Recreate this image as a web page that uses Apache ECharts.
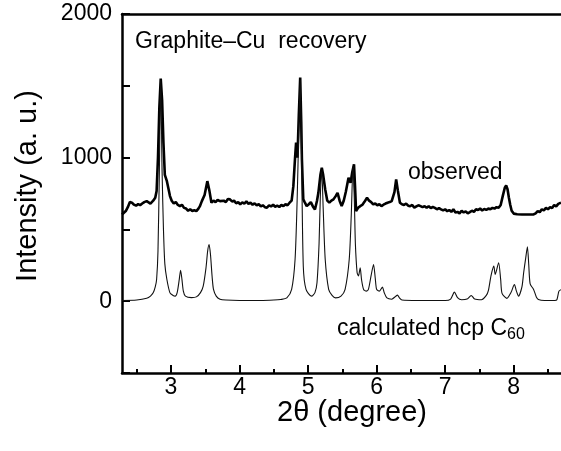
<!DOCTYPE html>
<html><head><meta charset="utf-8">
<script src="https://cdn.jsdelivr.net/npm/echarts@6/dist/echarts.min.js"></script>
<style>html,body{margin:0;padding:0;background:#fff}#c{width:561px;height:451px}</style>
</head><body><div id="c"></div>
<script>
var obsX = [2.285,2.31,2.34,2.37,2.40,2.43,2.46,2.49,2.52,2.55,2.58,2.61,2.645,2.67,2.70,2.72,2.74,2.77,2.79,2.81,2.83,2.85,2.87,2.89,2.91,2.94,2.96,2.985,3.01,3.04,3.07,3.10,3.13,3.16,3.19,3.22,3.25,3.28,3.31,3.34,3.37,3.40,3.42,3.45,3.49,3.53,3.56,3.59,3.62,3.65,3.68,3.715,3.74,3.77,3.80,3.83,3.86,3.89,3.92,3.95,3.98,4.01,4.04,4.07,4.10,4.13,4.16,4.19,4.22,4.25,4.28,4.31,4.34,4.37,4.40,4.43,4.46,4.49,4.52,4.55,4.58,4.61,4.64,4.67,4.70,4.73,4.76,4.785,4.81,4.825,4.845,4.865,4.885,4.90,4.91,4.93,4.95,4.98,5.01,5.04,5.07,5.10,5.13,5.15,5.18,5.20,5.22,5.25,5.28,5.31,5.34,5.37,5.40,5.43,5.46,5.49,5.52,5.55,5.59,5.62,5.645,5.67,5.685,5.70,5.73,5.76,5.79,5.82,5.86,5.89,5.92,5.95,5.98,6.01,6.04,6.07,6.10,6.13,6.16,6.19,6.22,6.26,6.285,6.31,6.34,6.37,6.40,6.43,6.46,6.49,6.52,6.55,6.58,6.61,6.64,6.67,6.70,6.73,6.76,6.79,6.82,6.85,6.88,6.91,6.94,6.97,7.00,7.03,7.06,7.09,7.12,7.15,7.18,7.21,7.24,7.27,7.30,7.33,7.36,7.39,7.42,7.45,7.48,7.51,7.54,7.57,7.60,7.63,7.66,7.69,7.72,7.75,7.78,7.81,7.84,7.87,7.89,7.91,7.93,7.95,7.97,8.00,8.05,8.12,8.20,8.29,8.32,8.35,8.38,8.41,8.44,8.47,8.50,8.53,8.56,8.59,8.62,8.65,8.69];
var obsY = [604,612,628,655,690,686,672,665,676,669,680,690,697,684,680,690,700,720,767,1000,1350,1550,1400,1100,880,836,790,732,700,681,690,670,662,672,650,645,630,640,628,633,627,645,660,697,740,836,770,686,700,690,705,697,688,700,690,712,709,695,700,682,690,674,688,680,695,678,686,672,681,668,676,660,668,655,651,668,660,672,658,665,656,670,662,675,668,686,700,801,1000,1104,1000,1300,1557,1250,987,709,690,662,675,690,660,639,700,755,880,930,880,778,700,686,700,709,730,755,700,662,700,760,860,825,900,953,800,627,650,662,670,690,720,700,690,674,680,668,675,662,672,680,686,690,697,760,848,770,686,675,670,680,665,662,670,651,660,668,662,655,662,650,662,648,656,650,640,648,639,632,640,627,635,622,640,618,622,612,630,618,625,612,620,630,622,640,635,645,632,642,636,645,640,650,645,655,651,670,732,790,806,780,720,670,630,610,605,604,604,604,612,628,620,640,632,650,640,655,648,670,660,678,686];
var calX = [2.285,2.50,2.645,2.70,2.74,2.77,2.79,2.81,2.83,2.85,2.87,2.89,2.91,2.94,2.985,3.03,3.06,3.09,3.12,3.14,3.16,3.18,3.21,3.30,3.37,3.43,3.47,3.51,3.535,3.555,3.575,3.60,3.62,3.66,3.715,3.80,4.00,4.30,4.50,4.60,4.69,4.76,4.81,4.84,4.865,4.885,4.905,4.93,4.97,5.05,5.10,5.13,5.16,5.18,5.20,5.22,5.25,5.30,5.35,5.40,5.48,5.54,5.60,5.63,5.655,5.675,5.69,5.715,5.735,5.76,5.78,5.81,5.85,5.88,5.92,5.955,5.98,6.00,6.04,6.085,6.11,6.15,6.22,6.28,6.305,6.33,6.37,6.60,7.00,7.08,7.135,7.18,7.24,7.32,7.38,7.43,7.53,7.60,7.63,7.67,7.71,7.73,7.78,7.81,7.83,7.90,7.96,8.01,8.04,8.07,8.12,8.145,8.175,8.20,8.22,8.24,8.29,8.33,8.36,8.45,8.60,8.63,8.66,8.69];
var calY = [5,8,20,35,58,100,151,350,900,1540,900,500,260,151,58,40,35,60,150,216,150,70,35,25,30,60,105,230,350,395,330,170,82,35,14,8,5,5,8,12,23,82,290,700,1200,1540,1000,244,82,35,60,128,400,750,900,650,290,82,40,23,35,82,290,600,940,700,400,200,175,233,150,82,70,82,180,256,160,82,70,98,60,23,14,35,42,25,8,5,5,15,63,25,10,15,40,15,10,40,73,180,244,186,268,150,55,20,60,116,70,35,100,198,300,379,250,120,82,30,12,5,5,10,70,80];
var xMajor = [3,4,5,6,7,8];
var xMinor = [2.5,3.5,4.5,5.5,6.5,7.5,8.5];
var yLabels = [0,1000,2000];

function pairs(xs, ys){ return xs.map(function(x,i){return [x, ys[i]];}); }
var FONT = 'Liberation Sans';
var XMIN = 2.285, XMAX = 8.69;
function tickAxis(vals, len){
  return {type:'value', min:XMIN, max:XMAX, position:'bottom',
    axisLine:{show:false, onZero:false},
    axisTick:{show:true, inside:true, length:len, customValues:vals, lineStyle:{color:'#000', width:2}},
    axisLabel:{show:false}, splitLine:{show:false}};
}
var chart = echarts.init(document.getElementById('c'));
chart.setOption({
  animation:false,
  backgroundColor:'#fff',
  grid:{left:122, right:0, top:14, bottom:78, containLabel:false},
  xAxis:[
    {type:'value', min:XMIN, max:XMAX, position:'bottom',
     axisLine:{show:true, onZero:false, lineStyle:{color:'#000', width:2.5}},
     axisTick:{show:false},
     axisLabel:{show:true, customValues:xMajor, margin:3, color:'#000', fontSize:23, fontFamily:FONT},
     splitLine:{show:false}},
    tickAxis(xMajor, 8),
    tickAxis(xMinor, 4),
    {type:'value', min:XMIN, max:XMAX, position:'top',
     axisLine:{show:true, onZero:false, lineStyle:{color:'#000', width:2.5}},
     axisTick:{show:false}, axisLabel:{show:false}, splitLine:{show:false}}
  ],
  yAxis:{type:'value', min:-500, max:2000, interval:500,
     axisLine:{show:true, onZero:false, lineStyle:{color:'#000', width:2.5}},
     axisTick:{show:true, inside:true, length:8, lineStyle:{color:'#000', width:2}},
     axisLabel:{show:true, margin:10, color:'#000', fontSize:23, fontFamily:FONT,
       formatter:function(v){ return yLabels.indexOf(v) >= 0 ? String(v) : ''; }},
     splitLine:{show:false}},
  series:[
    {type:'line', name:'observed', data:pairs(obsX, obsY), showSymbol:false, symbol:'none',
     lineStyle:{color:'#000', width:2.6}, clip:true},
    {type:'line', name:'calculated', data:pairs(calX, calY), showSymbol:false, symbol:'none', smooth:0.25,
     lineStyle:{color:'#111', width:1.1}, clip:true}
  ],
  graphic:[
    {type:'text', x:28, y:186, rotation:Math.PI/2,
     style:{text:'Intensity (a. u.)', fill:'#000', fontSize:29, fontFamily:FONT, align:'center', verticalAlign:'middle'}},
    {type:'text', x:352, y:413,
     style:{text:'2θ (degree)', fill:'#000', fontSize:29, fontFamily:FONT, align:'center', verticalAlign:'middle'}},
    {type:'text', left:135, top:30, style:{text:'Graphite–Cu  recovery', fill:'#000', fontSize:23, fontFamily:FONT}},
    {type:'text', left:408, top:161, style:{text:'observed', fill:'#000', fontSize:23, fontFamily:FONT}},
    {type:'text', left:337, top:317, style:{text:'calculated hcp C', fill:'#000', fontSize:23, fontFamily:FONT}},
    {type:'text', left:507, top:327, style:{text:'60', fill:'#000', fontSize:16, fontFamily:FONT}}
  ]
});
</script></body></html>
